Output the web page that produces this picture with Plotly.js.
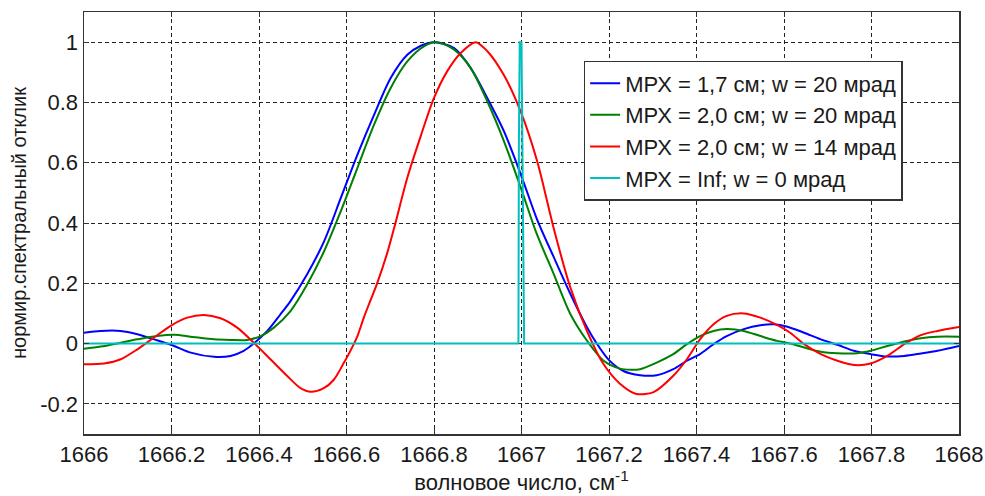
<!DOCTYPE html>
<html>
<head>
<meta charset="utf-8">
<script src="https://cdn.plot.ly/plotly-3.0.1.min.js"></script>
<style>html,body{margin:0;padding:0;background:#fff;}#chart{width:985px;height:496px;}</style>
</head>
<body>
<div id="chart"></div>
<script>
// Series names
const seriesNames = [
  "МРХ = 1,7 см; w = 20 мрад",
  "МРХ = 2,0 см; w = 20 мрад",
  "МРХ = 2,0 см; w = 14 мрад",
  "МРХ = Inf; w = 0 мрад"
];

// Blue: МРХ = 1,7 см; w = 20 мрад
const blueX = [1666.000,1666.038,1666.084,1666.122,1666.167,1666.206,1666.244,1666.297,1666.335,1666.365,1666.388,1666.419,1666.449,1666.472,1666.510,1666.549,1666.587,1666.625,1666.663,1666.701,1666.739,1666.770,1666.800,1666.846,1666.884,1666.922,1666.960,1667.000,1667.035,1667.073,1667.111,1667.149,1667.172,1667.200,1667.233,1667.271,1667.309,1667.347,1667.378,1667.408,1667.439,1667.469,1667.508,1667.546,1667.576,1667.608,1667.646,1667.684,1667.722,1667.760,1667.798,1667.836,1667.875,1667.913,1667.951,1668.000];
const blueY = [0.036,0.042,0.042,0.031,0.011,-0.008,-0.030,-0.044,-0.041,-0.024,0.000,0.042,0.097,0.141,0.230,0.340,0.483,0.627,0.759,0.881,0.958,0.988,1.000,0.980,0.914,0.814,0.704,0.555,0.414,0.289,0.167,0.056,0.000,-0.055,-0.091,-0.105,-0.105,-0.085,-0.057,-0.035,-0.002,0.025,0.048,0.061,0.064,0.056,0.036,0.014,-0.004,-0.024,-0.035,-0.043,-0.041,-0.033,-0.024,-0.008];

// Green: МРХ = 2,0 см; w = 20 мрад
const greenX = [1666.000,1666.038,1666.084,1666.122,1666.167,1666.206,1666.244,1666.297,1666.335,1666.373,1666.404,1666.434,1666.472,1666.510,1666.549,1666.587,1666.625,1666.663,1666.701,1666.739,1666.777,1666.808,1666.846,1666.884,1666.922,1666.960,1667.000,1667.034,1667.073,1667.111,1667.149,1667.187,1667.225,1667.250,1667.271,1667.309,1667.347,1667.378,1667.408,1667.439,1667.469,1667.508,1667.546,1667.584,1667.614,1667.646,1667.684,1667.722,1667.768,1667.798,1667.836,1667.875,1667.913,1667.951,1668.000];
const greenY = [-0.017,-0.010,0.003,0.014,0.025,0.029,0.023,0.014,0.012,0.012,0.025,0.053,0.108,0.196,0.307,0.439,0.583,0.726,0.848,0.936,0.986,1.000,0.975,0.914,0.803,0.671,0.510,0.367,0.233,0.100,0.011,-0.056,-0.083,-0.087,-0.085,-0.063,-0.035,-0.002,0.025,0.042,0.048,0.042,0.025,0.009,0.000,-0.013,-0.027,-0.032,-0.032,-0.024,-0.008,0.007,0.018,0.023,0.023];

// Red: МРХ = 2,0 см; w = 14 мрад
const redX = [1666.000,1666.046,1666.084,1666.122,1666.160,1666.198,1666.236,1666.274,1666.312,1666.350,1666.388,1666.426,1666.464,1666.495,1666.518,1666.548,1666.571,1666.594,1666.605,1666.625,1666.640,1666.655,1666.670,1666.693,1666.709,1666.739,1666.770,1666.800,1666.830,1666.861,1666.895,1666.922,1666.960,1666.998,1667.036,1667.074,1667.111,1667.149,1667.187,1667.225,1667.263,1667.302,1667.347,1667.378,1667.408,1667.439,1667.469,1667.508,1667.546,1667.584,1667.614,1667.646,1667.684,1667.722,1667.760,1667.798,1667.836,1667.875,1667.913,1667.951,1668.000];
const redY = [-0.069,-0.066,-0.052,-0.019,0.020,0.059,0.086,0.095,0.084,0.053,0.003,-0.052,-0.107,-0.148,-0.160,-0.148,-0.120,-0.064,-0.035,0.025,0.088,0.144,0.200,0.300,0.384,0.550,0.690,0.815,0.903,0.964,1.000,0.970,0.890,0.770,0.604,0.380,0.189,0.044,-0.067,-0.133,-0.167,-0.161,-0.107,-0.052,0.014,0.064,0.092,0.100,0.086,0.062,0.036,-0.002,-0.035,-0.057,-0.071,-0.066,-0.041,-0.002,0.028,0.042,0.055];

// Cyan: МРХ = Inf; w = 0 мрад
const cyanX = [1666.000,1666.993,1666.994,1666.996,1667.000,1667.002,1667.004,1667.006,1668.000];
const cyanY = [0,0,0.66,1,1,0.70,0.38,0,0];

// Tick labels
const xTickVals = [1666,1666.2,1666.4,1666.6,1666.8,1667,1667.2,1667.4,1667.6,1667.8,1668];
const xTickText = ["1666","1666.2","1666.4","1666.6","1666.8","1667","1667.2","1667.4","1667.6","1667.8","1668"];
const yTickVals = [-0.2,0,0.2,0.4,0.6,0.8,1];
const yTickText = ["-0.2","0","0.2","0.4","0.6","0.8","1"];

const colors = ["#0000ff","#008000","#ff0000","#00bfbf"];
const xs = [blueX, greenX, redX, cyanX];
const ys = [blueY, greenY, redY, cyanY];

const traces = xs.map((x, i) => ({
  x: x, y: ys[i], type: "scatter", mode: "lines", name: seriesNames[i],
  line: {color: colors[i], width: 2, shape: i < 3 ? "spline" : "linear", smoothing: 0.8}
}));

const fam = "Arial, 'Liberation Sans', sans-serif";
const font = {family: fam, size: 22, color: "#1a1a1a"};
const yTitleFont = {family: fam, size: 20, color: "#1a1a1a"};

const layout = {
  width: 985, height: 496,
  margin: {l: 84, r: 26, t: 12, b: 62},
  paper_bgcolor: "#ffffff", plot_bgcolor: "#ffffff",
  font: font,
  showlegend: true,
  legend: {
    x: 0.571, y: 0.884, xanchor: "left", yanchor: "top",
    bgcolor: "#ffffff", bordercolor: "#333333", borderwidth: 1.5,
    font: font, tracegroupgap: 0
  },
  xaxis: {
    range: [1666, 1668], tickmode: "array", tickvals: xTickVals, ticktext: xTickText,
    showgrid: true, gridcolor: "#222222", gridwidth: 1, griddash: "4px,3px",
    showline: true, linecolor: "#333333", linewidth: 1.5, mirror: "ticks",
    ticks: "inside", ticklen: 5, tickcolor: "#333333", zeroline: false,
    tickfont: font,
    title: {text: "волновое число, см<sup>-1</sup>", font: font, standoff: 4}
  },
  yaxis: {
    range: [-0.3, 1.1], tickmode: "array", tickvals: yTickVals, ticktext: yTickText,
    showgrid: true, gridcolor: "#222222", gridwidth: 1, griddash: "4px,3px",
    showline: true, linecolor: "#333333", linewidth: 1.5, mirror: "ticks",
    ticks: "inside", ticklen: 5, tickcolor: "#333333", zeroline: false,
    tickfont: font,
    title: {text: "нормир.спектральный отклик", font: yTitleFont, standoff: 8}
  }
};

Plotly.newPlot("chart", traces, layout, {displayModeBar: false, staticPlot: true});
</script>
</body>
</html>
